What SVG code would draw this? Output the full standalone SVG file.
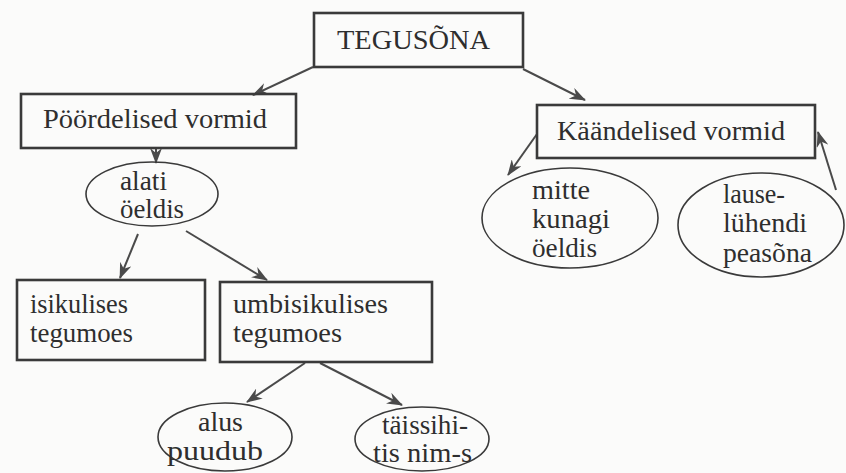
<svg xmlns="http://www.w3.org/2000/svg" width="846" height="473" viewBox="0 0 846 473">
<defs>
<style>
.box{fill:none;stroke:#3a3a3a;stroke-width:2.6}
.ell{fill:none;stroke:#3a3a3a;stroke-width:1.6}
.con{fill:none;stroke:#4a4a4a;stroke-width:2;marker-end:url(#ah)}
text{font-family:"Liberation Serif","Times New Roman",serif;font-size:27px;fill:#2e2e2e}
</style>
<marker id="ah" viewBox="0 0 16 12" refX="15" refY="6" markerWidth="16" markerHeight="12" markerUnits="userSpaceOnUse" orient="auto">
<path d="M0,0 L16,6 L0,12 L5,6 z" fill="#4a4a4a"/>
</marker>
</defs>
<rect width="846" height="473" fill="#fbfbfa"/>
<g id="connectors">
<line class="con" x1="313" y1="67" x2="253" y2="95"/>
<line class="con" x1="523" y1="69" x2="585" y2="100"/>
<line class="con" x1="156" y1="148" x2="156" y2="163"/>
<line class="con" x1="537" y1="134" x2="508" y2="175"/>
<line class="con" x1="836" y1="190" x2="818" y2="132"/>
<line class="con" x1="138" y1="234" x2="120" y2="278"/>
<line class="con" x1="186" y1="231" x2="267" y2="280"/>
<line class="con" x1="305" y1="363" x2="247" y2="402"/>
<line class="con" x1="320" y1="363" x2="402" y2="405"/>
</g>
<g id="tegusona">
<rect class="box" x="314" y="13" width="209" height="54"/>
<text x="337" y="49" font-size="25" textLength="153" lengthAdjust="spacingAndGlyphs">TEGUSÕNA</text>
</g>
<g id="poordelised">
<rect class="box" x="21" y="94" width="275" height="54"/>
<text x="43" y="128" textLength="224" lengthAdjust="spacingAndGlyphs">Pöördelised vormid</text>
</g>
<g id="kaandelised">
<rect class="box" x="537" y="105" width="278" height="53"/>
<text x="557" y="140" textLength="228" lengthAdjust="spacingAndGlyphs">Käändelised vormid</text>
</g>
<g id="alati">
<ellipse class="ell" cx="152" cy="194" rx="66" ry="32"/>
<text x="120" y="190" textLength="47" lengthAdjust="spacingAndGlyphs">alati</text>
<text x="120" y="218" textLength="64" lengthAdjust="spacingAndGlyphs">öeldis</text>
</g>
<g id="mitte">
<ellipse class="ell" cx="570" cy="218" rx="88" ry="50"/>
<text x="532" y="199" textLength="58" lengthAdjust="spacingAndGlyphs">mitte</text>
<text x="532" y="228" textLength="78" lengthAdjust="spacingAndGlyphs">kunagi</text>
<text x="532" y="257" textLength="65" lengthAdjust="spacingAndGlyphs">öeldis</text>
</g>
<g id="lause">
<ellipse class="ell" cx="761" cy="225" rx="83" ry="52"/>
<text x="723" y="203" textLength="62" lengthAdjust="spacingAndGlyphs">lause-</text>
<text x="723" y="232" textLength="84" lengthAdjust="spacingAndGlyphs">lühendi</text>
<text x="723" y="262" textLength="89" lengthAdjust="spacingAndGlyphs">peasõna</text>
</g>
<g id="isikulises">
<rect class="box" x="17" y="280" width="188" height="80"/>
<text x="30" y="313" textLength="98" lengthAdjust="spacingAndGlyphs">isikulises</text>
<text x="30" y="342" textLength="103" lengthAdjust="spacingAndGlyphs">tegumoes</text>
</g>
<g id="umbisikulises">
<rect class="box" x="220" y="282" width="212" height="80"/>
<text x="233" y="313" textLength="155" lengthAdjust="spacingAndGlyphs">umbisikulises</text>
<text x="233" y="342" textLength="109" lengthAdjust="spacingAndGlyphs">tegumoes</text>
</g>
<g id="alus">
<ellipse class="ell" cx="225" cy="437" rx="67" ry="34"/>
<text x="198" y="431" textLength="45" lengthAdjust="spacingAndGlyphs">alus</text>
<text x="167" y="460" textLength="96" lengthAdjust="spacingAndGlyphs">puudub</text>
</g>
<g id="taissihitis">
<ellipse class="ell" cx="422" cy="439" rx="67" ry="32"/>
<text x="382" y="434" textLength="86" lengthAdjust="spacingAndGlyphs">täissihi-</text>
<text x="373" y="462" textLength="99" lengthAdjust="spacingAndGlyphs">tis nim-s</text>
</g>
</svg>
